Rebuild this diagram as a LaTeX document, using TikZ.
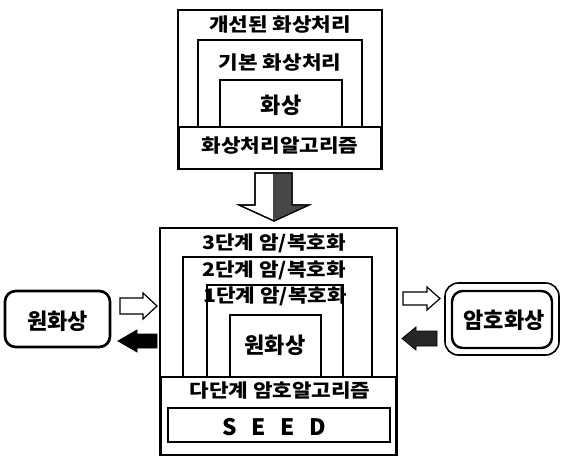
\documentclass[tikz,border=0pt]{standalone}
\usepackage{fontspec}
\newfontfamily\krl{Noto Sans CJK KR}[FakeStretch=1.14]
\newfontfamily\krb{Noto Sans CJK KR}
\begin{document}
\begin{tikzpicture}[x=0.75pt,y=-0.75pt,
  box/.style={draw,line width=0.9pt},
  bar/.style={draw,line width=1.7pt},
  lbl/.style={font=\krl\bfseries\fontsize{14}{15}\selectfont, inner sep=0pt},
  blbl/.style={font=\krb\bfseries\fontsize{16.5}{17}\selectfont, inner sep=0pt},
  warrow/.style={draw,line width=0.9pt,fill=white,line join=miter},
  darrow/.style={draw,line width=0.6pt,fill=black!85,line join=miter}]
\useasboundingbox (0,0) rectangle (564,462);

% ---------- top structure ----------
\draw[box] (178,10) rectangle (382,169);
\draw[box] (198,40) rectangle (362,127);
\draw[box] (220,80) rectangle (342,127);
\draw[bar] (179,127) rectangle (381,169);
\node[lbl]  (improved) at (280,25)  {개선된 화상처리};
\node[lbl]  (basic)    at (280,63)  {기본 화상처리};
\node[blbl] (image)    at (281,105) {화상};
\node[lbl]  (imgalg)   at (280,146) {화상처리알고리즘};

% ---------- down arrow ----------
\draw[warrow] (255,173) -- (292,173) -- (292,205) -- (309,205) -- (274,221)
  -- (239,205) -- (255,205) -- cycle;
\fill[black!72] (273,173.5) -- (291.5,173.5) -- (291.5,205.5) -- (307,205.5) -- (274,220.3) -- (273,220) -- cycle;
\draw[line width=0.9pt,line join=miter] (255,173) -- (292,173) -- (292,205) -- (309,205) -- (274,221)
  -- (239,205) -- (255,205) -- cycle;

% ---------- bottom structure ----------
\draw[box] (160,228) rectangle (397,455);
\draw[box] (183,257) rectangle (372,377);
\draw[box] (207,285) rectangle (343,377);
\draw[box] (230,315) rectangle (321,377);
\draw[bar] (161,377) rectangle (396,455);
\draw[bar] (168,408) rectangle (390,442);
\node[lbl]  (s3)    at (274,243) {3단계 암/복호화};
\node[lbl]  (s2)    at (274,270) {2단계 암/복호화};
\node[lbl]  (s1)    at (275,296) {1단계 암/복호화};
\node[blbl] (plain) at (275,345) {원화상};
\node[lbl]  (multi) at (280,391) {다단계 암호알고리즘};
\node[blbl,font=\krb\bfseries\fontsize{17}{18}\selectfont] (seed) at (274,427) {S\hspace{11pt}E\hspace{11pt}E\hspace{11pt}D};

% ---------- left box ----------
\draw[line width=2pt,rounded corners=8pt] (5,291) rectangle (110,347);
\node[blbl] (orig) at (57.5,321) {원화상};
\draw[warrow] (120,298) -- (143,298) -- (143,293) -- (157,306) -- (143,319)
  -- (143,314) -- (120,314) -- cycle;
\draw[darrow,fill=black] (157,334) -- (137,334) -- (137,330) -- (118,341) -- (137,352)
  -- (137,348) -- (157,348) -- cycle;

% ---------- right box ----------
\draw[line width=1.2pt,rounded corners=10pt] (445,283) rectangle (559,355);
\draw[line width=1.8pt,rounded corners=8pt] (452,291) rectangle (552,348);
\node[blbl] (enc) at (504,320) {암호화상};
\draw[warrow] (403,292) -- (427,292) -- (427,287) -- (440,298.5) -- (427,310)
  -- (427,305) -- (403,305) -- cycle;
\draw[darrow] (437,331) -- (416,331) -- (416,327) -- (402,338.5) -- (416,350)
  -- (416,346) -- (437,346) -- cycle;
\end{tikzpicture}
\end{document}
